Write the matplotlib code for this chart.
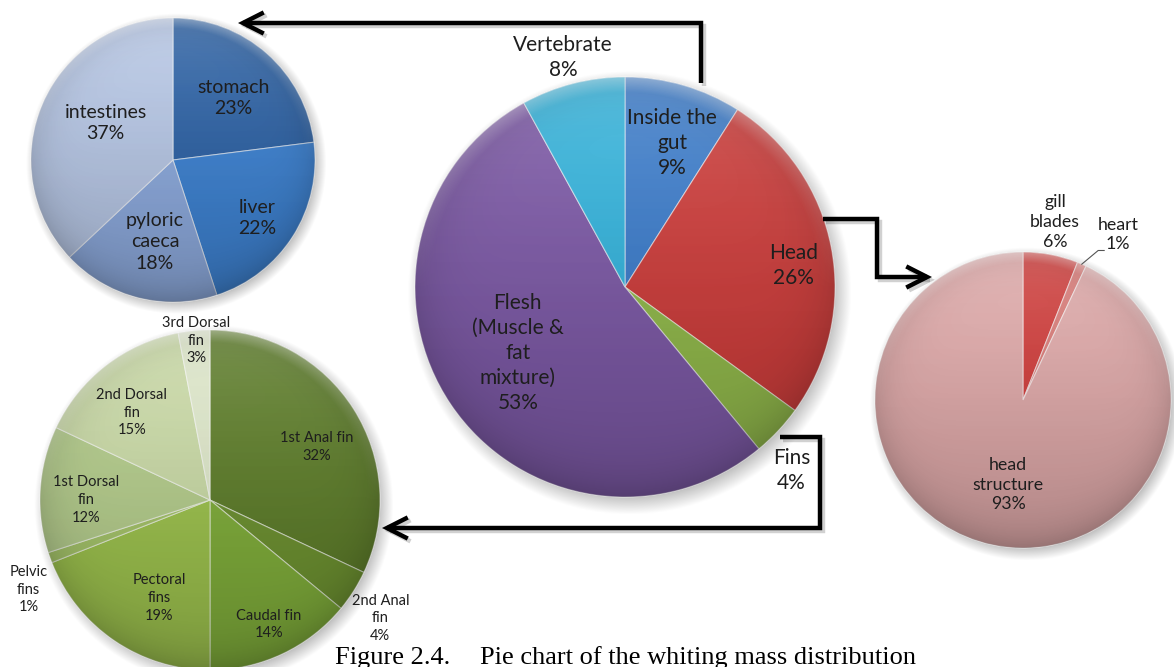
import numpy as np
import matplotlib
matplotlib.use("Agg")
import matplotlib.pyplot as plt
from matplotlib.patches import Circle, FancyArrowPatch, ArrowStyle
from matplotlib.path import Path
import matplotlib.patheffects as pe

# ---------------- data ----------------
whole_names = ["Inside the\ngut", "Head", "Fins", "Flesh\n(Muscle &\nfat\nmixture)", "Vertebrate"]
whole_pct = [9, 26, 4, 53, 8]

gut_names = ["stomach", "liver", "pyloric\ncaeca", "intestines"]
gut_pct = [23, 22, 18, 37]

fin_names = ["1st Anal fin", "2nd Anal\nfin", "Caudal fin", "Pectoral\nfins",
             "Pelvic\nfins", "1st Dorsal\nfin", "2nd Dorsal\nfin", "3rd Dorsal\nfin"]
fin_pct = [32, 4, 14, 19, 1, 12, 15, 3]

head_names = ["gill\nblades", "heart", "head\nstructure"]
head_pct = [6, 1, 93]

caption_num = "Figure 2.4."
caption_text = "Pie chart of the whiting mass distribution"

# ---------------- styling ----------------
whole_colors = ["#3d7cc9", "#cc3e3c", "#92b94c", "#7d5aa6", "#35b2da"]
gut_colors = ["#2f63a5", "#3f83d2", "#8eabde", "#b7c7e5"]
fin_colors = ["#5e7d2b", "#6d9131", "#80ad3b", "#9dc24e",
              "#a5c46a", "#b4cc8c", "#c9d9a6", "#dde6c9"]
head_colors = ["#cf3f3d", "#d87b78", "#dea9a9"]

# label placement: (radial fraction, clockwise angle shift in degrees)
whole_lab = [(0.72, 2), (0.81, 3.5), (1.18, 4.6), (0.60, 2.5), (1.13, -0.7)]
gut_lab = [(0.61, 2.6), (0.72, 1.9), (0.59, -2), (0.54, 5.2)]
fin_lab = [(0.70, 6), (1.22, 2.4), (0.81, 0), (0.65, -6.7),
           (1.19, -6.5), (0.73, -3.6), (0.69, -4.1), (0.94, 0.4)]
head_lab = [(1.22, -0.6), (1.29, 6.5), (0.58, -2.6)]

W, H = 1174, 667
LABEL_FONT = "Lato"
TEXT_COLOR = "#1e1e1e"

fig = plt.figure(figsize=(W / 100, H / 100), dpi=100)
ax = fig.add_axes([0, 0, 1, 1])


def shade(cx, cy, r):
    """Soft shadow underneath plus a light-top / dark-bottom sheen on a pie."""
    n = 300
    # drop shadow
    pad = 1.15
    yy, xx = np.mgrid[1:-1:n * 1j, -1:1:n * 1j] * pad
    dist = np.hypot(xx - 0.02, yy + 0.03)
    a = np.clip((1.06 - dist) / 0.1, 0, 1) * 0.28
    sh = np.zeros((n, n, 4))
    sh[..., 3] = a
    ax.imshow(sh, extent=(cx - r * pad, cx + r * pad, cy - r * pad, cy + r * pad),
              zorder=1, interpolation="bilinear")

    yy, xx = np.mgrid[1:-1:n * 1j, -1:1:n * 1j]
    rr = np.hypot(xx, yy)
    t = (1 - yy) / 2  # 0 at top, 1 at bottom
    dark = np.zeros((n, n, 4))
    dark[..., 3] = 0.20 * t ** 1.5 + 0.12 * np.clip(rr, 0, 1) ** 8
    white = np.ones((n, n, 4))
    white[..., 3] = 0.18 * (1 - t) ** 3 + 0.25 * np.clip((rr - 0.93) / 0.07, 0, 1) * (yy > 0) * yy
    clip = Circle((cx, cy), r, transform=ax.transData)
    for img in (dark, white):
        im = ax.imshow(img, extent=(cx - r, cx + r, cy - r, cy + r), zorder=3,
                       interpolation="bilinear")
        im.set_clip_path(clip)


def draw_pie(cx_px, cy_px, r, values, names, colors, layout, fontsize, linespacing):
    cx, cy = cx_px, H - cy_px
    shade(cx, cy, r)
    wedges, _ = ax.pie(values, colors=colors, startangle=90, counterclock=False,
                       center=(cx, cy), radius=r,
                       wedgeprops=dict(edgecolor=(1, 1, 1, 0.55), linewidth=0.8, zorder=2))
    for w in wedges:
        w.set_zorder(2)
    positions = []
    for w, name, v, (frac, shift) in zip(wedges, names, values, layout):
        mid = np.deg2rad(0.5 * (w.theta1 + w.theta2) - shift)
        x = cx + frac * r * np.cos(mid)
        y = cy + frac * r * np.sin(mid)
        ax.text(x, y, f"{name}\n{v}%", ha="center", va="center", fontsize=fontsize,
                family=LABEL_FONT, color=TEXT_COLOR, linespacing=linespacing, zorder=6)
        positions.append((w, x, y))
    return wedges, positions


draw_pie(625, 287, 210, whole_pct, whole_names, whole_colors, whole_lab, 15, 1.32)
draw_pie(173, 160, 142, gut_pct, gut_names, gut_colors, gut_lab, 14, 1.3)
draw_pie(210, 500, 170, fin_pct, fin_names, fin_colors, fin_lab, 10.5, 1.32)
hw, hpos = draw_pie(1023, 400, 148, head_pct, head_names, head_colors, head_lab, 12.8, 1.3)

# leader line for the small heart slice
w_heart, lx, ly = hpos[1]
mid = np.deg2rad(0.5 * (w_heart.theta1 + w_heart.theta2))
ex = 1023 + 148 * np.cos(mid)
ey = (H - 400) + 148 * np.sin(mid)
ax.plot([ex, lx - 20, lx - 14], [ey, ly - 16, ly - 16], color="#555555", lw=0.8, zorder=6)

# connector arrows between the pies
connectors = [
    [(701, 83), (701, 23), (238, 23)],
    [(823, 219), (877, 219), (877, 277), (932, 277)],
    [(780, 437), (820, 437), (820, 528), (382, 528)],
]
style = ArrowStyle("->", head_length=0.75, head_width=0.38)
for pts in connectors:
    verts = [(x, H - y) for x, y in pts]
    codes = [Path.MOVETO] + [Path.LINETO] * (len(verts) - 1)
    arr = FancyArrowPatch(path=Path(verts, codes), arrowstyle=style, mutation_scale=20,
                          color="black", lw=3.2, joinstyle="miter", capstyle="butt",
                          zorder=7)
    arr.set_path_effects([pe.SimpleLineShadow(offset=(2, -2), shadow_color="k", alpha=0.18),
                          pe.Normal()])
    ax.add_patch(arr)

# caption
ax.text(335, H - 664, caption_num, ha="left", va="baseline", fontsize=19,
        family="Liberation Serif", color="black", zorder=8)
ax.text(480, H - 664, caption_text, ha="left", va="baseline", fontsize=19,
        family="Liberation Serif", color="black", zorder=8)

ax.set_xlim(0, W)
ax.set_ylim(0, H)
ax.set_aspect("auto")
ax.axis("off")

fig.savefig("out.png", dpi=100)
